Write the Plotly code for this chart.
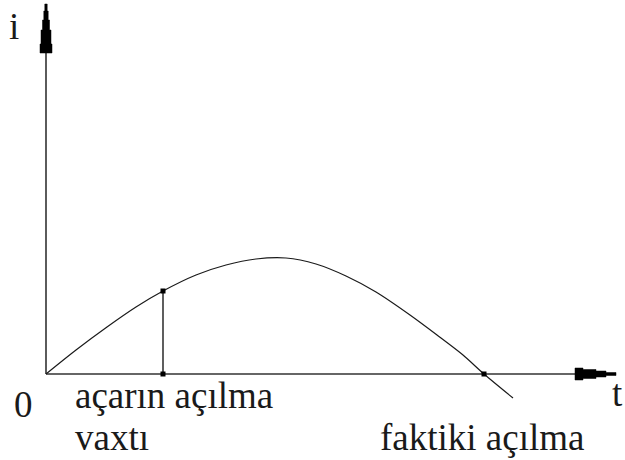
import plotly.graph_objects as go

# Current curve i(t) (time and current in drawing units)
t_vals = [0, 30, 61, 90, 117, 150, 180, 210, 240, 270, 300, 330, 364, 391, 417, 438, 467]
i_vals = [0, 24, 47, 67, 83, 99, 109, 115, 116, 110, 98, 82, 59, 39, 19, 0, -24]

# Switch opening moment and actual interruption moment
t_open = 117
i_open = 83
t_zero = 438

# Axis extents
t_axis_end = 569
i_axis_end = 370

labels = {
    "i": "i",
    "t": "t",
    "origin": "0",
    "open1": "açarın açılma",
    "open2": "vaxtı",
    "actual": "faktiki açılma",
}

INK = "#1a1a1a"
AXIS = "#333333"
SERIF = "Times New Roman, Liberation Serif, serif"
FONT = dict(family=SERIF, size=37, color=INK)

fig = go.Figure()

# axes
fig.add_trace(go.Scatter(x=[0, t_axis_end], y=[0, 0], mode="lines",
                         line=dict(color=AXIS, width=1.6), hoverinfo="skip"))
fig.add_trace(go.Scatter(x=[0, 0], y=[0, i_axis_end], mode="lines",
                         line=dict(color=AXIS, width=1.6), hoverinfo="skip"))

# stepped arrowheads
def x_arrow(end):
    steps = [(end - 41, end - 33, 6), (end - 33, end - 20, 4.5), (end - 20, end - 10, 3), (end - 10, end, 1.5)]
    xs, ys = [], []
    for a, b, h in steps:
        xs += [a, b]
        ys += [h, h]
    for a, b, h in reversed(steps):
        xs += [b, a]
        ys += [-h, -h]
    return xs, ys

def y_arrow(end):
    steps = [(end - 49, end - 40, 6), (end - 40, end - 26, 5), (end - 26, end - 16, 3.5), (end - 16, end - 7, 2.2), (end - 7, end, 1.2)]
    xs, ys = [], []
    for a, b, w in steps:
        xs += [-w, -w]
        ys += [a, b]
    for a, b, w in reversed(steps):
        xs += [w, w]
        ys += [b, a]
    return xs, ys

for ax, ay in (x_arrow(t_axis_end + 1), y_arrow(i_axis_end)):
    fig.add_trace(go.Scatter(x=ax + [ax[0]], y=ay + [ay[0]], mode="lines", fill="toself",
                             fillcolor="black", line=dict(color="black", width=0.5),
                             hoverinfo="skip"))

# current curve
fig.add_trace(go.Scatter(x=t_vals, y=i_vals, mode="lines",
                         line=dict(color=INK, width=1.2, shape="spline", smoothing=0.8),
                         hoverinfo="skip"))

# vertical line at switch opening
fig.add_trace(go.Scatter(x=[t_open, t_open], y=[0, i_open], mode="lines",
                         line=dict(color=INK, width=1.4), hoverinfo="skip"))

# marked points
fig.add_trace(go.Scatter(x=[t_open, t_open, t_zero], y=[i_open, 0, 0], mode="markers",
                         marker=dict(symbol="square", size=5, color="black"),
                         hoverinfo="skip"))

annots = [
    (-32, 348, labels["i"], "center"),
    (571, -19, labels["t"], "center"),
    (-23, -30, labels["origin"], "center"),
    (27, -21, labels["open1"], "left"),
    (27, -63, labels["open2"], "left"),
    (332, -63, labels["actual"], "left"),
]
for x, y, txt, anchor in annots:
    fig.add_annotation(x=x, y=y, text=txt, showarrow=False, xanchor=anchor,
                       yanchor="middle", font=FONT)

fig.update_layout(
    width=625, height=460,
    margin=dict(l=0, r=0, t=0, b=0),
    paper_bgcolor="white", plot_bgcolor="white",
    font=dict(family=SERIF, color=INK),
    showlegend=False,
    xaxis=dict(range=[-46, 579], visible=False, fixedrange=True),
    yaxis=dict(range=[-86, 374], visible=False, fixedrange=True),
)

fig.write_html("out.html")
